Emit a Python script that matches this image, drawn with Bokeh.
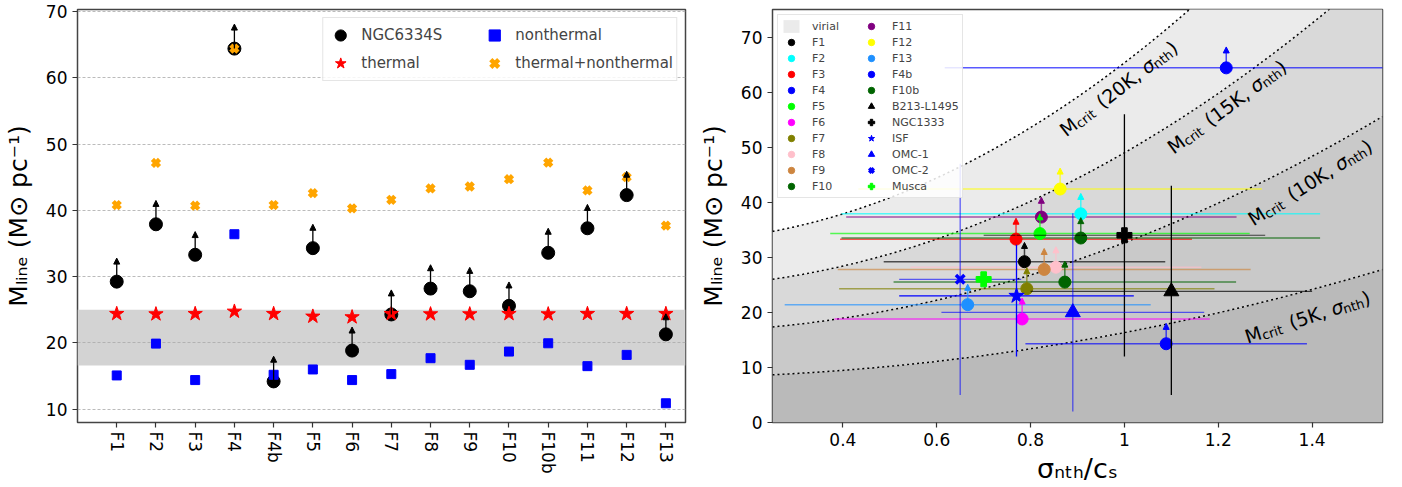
import numpy as np
from bokeh.plotting import figure
from bokeh.models import (Range1d, FixedTicker, BoxAnnotation, Arrow, NormalHead,
                          Legend, LegendItem, Label, ColumnDataSource)
from bokeh.layouts import row
from bokeh.embed import file_html
from bokeh.resources import INLINE

FONT = "DejaVu Sans"

# ---------------- left panel data ----------------
filaments = ["F1", "F2", "F3", "F4", "F4b", "F5", "F6", "F7", "F8", "F9",
             "F10", "F10b", "F11", "F12", "F13"]
ngc6334s = [29.25, 37.9, 33.3, 64.4, 14.2, 34.3, 18.85, 24.3, 28.2, 27.8,
            25.6, 33.6, 37.3, 42.3, 21.3]
ngc6334s_limit_tip = [32.8, 41.5, 36.8, 68.1, 18.0, 37.9, 22.4, 28.0, 31.8, 31.4,
                      29.2, 37.3, 40.9, 45.9, 24.4]
thermal = [24.4, 24.35, 24.4, 24.75, 24.4, 24.0, 23.9, 24.4, 24.35, 24.35,
           24.4, 24.35, 24.4, 24.4, 24.4]
nonthermal = [15.1, 19.9, 14.4, 36.4, 15.2, 16.0, 14.4, 15.3, 17.7, 16.7,
              18.7, 19.95, 16.5, 18.2, 10.9]
thermal_nonthermal = [40.8, 47.15, 40.7, 64.4, 40.8, 42.6, 40.3, 41.6, 43.3, 43.6,
                      44.7, 47.2, 43.0, 45.0, 37.7]
virial_band = [16.6, 25.0]

# ---------------- right panel data ----------------
f_names = ["F1", "F2", "F3", "F4", "F5", "F6", "F7", "F8", "F9", "F10",
           "F11", "F12", "F13", "F4b", "F10b"]
f_colors = ["black", "cyan", "red", "blue", "lime", "magenta", "olive", "pink",
            "peru", "darkgreen", "purple", "yellow", "dodgerblue", "blue", "darkgreen"]
f_sigma = [0.787, 0.907, 0.769, 1.217, 0.820, 0.782, 0.792, 0.854, 0.829, 0.873,
           0.823, 0.863, 0.666, 1.089, 0.907]
f_sigma_err = [0.30, 0.51, 0.375, 0.60, 0.447, 0.40, 0.40, 0.31, 0.44, 0.365,
               0.416, 0.43, 0.39, 0.30, 0.51]
f_mline = [29.2, 37.9, 33.3, 64.4, 34.3, 18.8, 24.3, 28.2, 27.8, 25.5,
           37.3, 42.4, 21.4, 14.3, 33.5]
f_mline_tip = [32.7, 41.6, 37.1, 68.2, 37.9, 22.6, 28.1, 31.9, 31.6, 29.3,
               40.9, 46.2, 25.1, 18.0, 37.2]

o_names = ["B213-L1495", "NGC1333", "ISF", "OMC-1", "OMC-2", "Musca"]
o_sigma = [1.10, 1.00, 0.77, 0.89, 0.65, 0.70]
o_sigma_err = [0.30, 0.30, 0.25, 0.28, 0.13, 0.0]
o_mline = [23.8, 34.0, 23.0, 20.0, 26.0, 26.0]
o_mline_err_lo = [18.8, 22.0, 11.0, 18.0, 21.0, 0.0]
o_mline_err_hi = [19.2, 22.0, 9.3, 18.0, 21.0, 0.0]
o_markers = ["triangle", "plus", "star", "triangle", "x", "plus"]
o_colors = ["black", "black", "blue", "blue", "blue", "lime"]

crit_temps = [5, 10, 15, 20]
mcrit_per_kelvin = 1.633   # M_sun/pc per K (thermal critical line mass)
band_colors = ["#bababa", "#c9c9c9", "#d9d9d9", "#ebebeb"]

YLABEL = "Mₗᵢₙₑ (M⊙ pc⁻¹)"


def style_axes(p, tick_fs="17px"):
    for ax in (p.xaxis, p.yaxis):
        ax.axis_line_color = None
        ax.major_tick_line_color = "#333333"
        ax.major_tick_line_width = 1.2
        ax.major_tick_out = 5
        ax.major_tick_in = 0
        ax.minor_tick_line_color = None
        ax.major_label_text_font = FONT
        ax.major_label_text_font_size = tick_fs
        ax.major_label_text_color = "black"
        ax.axis_label_text_font = FONT
        ax.axis_label_text_font_style = "normal"
        ax.axis_label_text_font_size = "25px"
        ax.axis_label_text_color = "black"
    p.outline_line_color = "#444444"
    p.outline_line_width = 1.5


H = 486

# ======================= LEFT PANEL =======================
idx = list(range(len(filaments)))
p1 = figure(width=695, height=H, x_range=Range1d(-1, 14.5), y_range=Range1d(8, 70.3),
            output_backend="svg", toolbar_location=None,
            min_border_left=73, min_border_right=10, min_border_top=9, min_border_bottom=62)
style_axes(p1)
p1.xaxis.ticker = FixedTicker(ticks=idx)
p1.xaxis.major_label_overrides = {i: n for i, n in enumerate(filaments)}
p1.xaxis.major_label_orientation = "vertical"
p1.xaxis.major_label_standoff = 4
p1.yaxis.ticker = FixedTicker(ticks=[10, 20, 30, 40, 50, 60, 70])
p1.yaxis.axis_label = YLABEL
p1.yaxis.axis_label_standoff = 10
p1.xgrid.visible = False
p1.ygrid.ticker = FixedTicker(ticks=[10, 20, 30, 40, 50, 60, 70])
p1.ygrid.grid_line_color = "#aaaaaa"
p1.ygrid.grid_line_dash = "3 2"
p1.ygrid.grid_line_width = 0.8

p1.add_layout(BoxAnnotation(bottom=virial_band[0], top=virial_band[1], fill_color="#d3d3d3",
                            fill_alpha=1.0, line_color=None, level="image"))

src_arrow = ColumnDataSource(dict(x=idx, y0=ngc6334s, y1=ngc6334s_limit_tip))
arr = Arrow(end=NormalHead(size=6, fill_color="black", line_color="black", line_width=1),
            x_start="x", y_start="y0", x_end="x", y_end="y1", source=src_arrow,
            line_color="black", line_width=1.3, level="glyph")
p1.add_layout(arr)
r_ngc = p1.scatter(idx, ngc6334s, marker="circle", size=13, color="black")
r_th = p1.scatter(idx, thermal, marker="star", size=15, color="red")
r_nth = p1.scatter(idx, nonthermal, marker="square", size=9, color="blue")
r_tnt = p1.scatter(idx, thermal_nonthermal, marker="x", size=10, line_width=4.5,
                   color="orange")

leg1 = Legend(items=[LegendItem(label="NGC6334S", renderers=[r_ngc]),
                     LegendItem(label="thermal", renderers=[r_th]),
                     LegendItem(label="nonthermal", renderers=[r_nth]),
                     LegendItem(label="thermal+nonthermal", renderers=[r_tnt])],
              location="top_right", ncols=2,
              label_text_font=FONT, label_text_font_size="15px",
              glyph_width=28, glyph_height=28, label_height=28, label_width=119,
              label_standoff=7, padding=3, spacing=0, margin=8,
              border_line_color="#cccccc", border_line_width=1,
              background_fill_color="white", background_fill_alpha=0.85)
p1.add_layout(leg1)

# ======================= RIGHT PANEL =======================
p2 = figure(width=695, height=H, x_range=Range1d(0.25, 1.55), y_range=Range1d(0, 75),
            output_backend="svg", toolbar_location=None,
            min_border_left=76, min_border_right=8, min_border_top=9, min_border_bottom=62)
style_axes(p2)
p2.xgrid.visible = False
p2.ygrid.visible = False
p2.xaxis.ticker = FixedTicker(ticks=[0.4, 0.6, 0.8, 1.0, 1.2, 1.4])
p2.yaxis.ticker = FixedTicker(ticks=[0, 10, 20, 30, 40, 50, 60, 70])
p2.yaxis.axis_label = YLABEL
p2.yaxis.axis_label_standoff = 10
p2.xaxis.axis_label = "σₙₜₕ/cₛ"
p2.xaxis.axis_label_standoff = 4
p2.xaxis.axis_label_text_font_size = "27px"

xs = np.linspace(0.25, 1.55, 300)
curves = [mcrit_per_kelvin * T * (1.0 + xs ** 2) for T in crit_temps]
lower = np.zeros_like(xs)
band_renderers = []
for c, col in zip(curves, band_colors):
    band_renderers.append(p2.varea(x=xs, y1=lower, y2=c, fill_color=col))
    lower = c
for c in curves:
    p2.line(xs, c, line_color="black", line_dash="2 3", line_width=1.5)

f_renderers = []
for i, name in enumerate(f_names):
    col = f_colors[i]
    p2.segment(x0=[f_sigma[i] - f_sigma_err[i]], y0=[f_mline[i]],
               x1=[f_sigma[i] + f_sigma_err[i]], y1=[f_mline[i]],
               line_color=col, line_alpha=0.65, line_width=1.5)
    p2.add_layout(Arrow(end=NormalHead(size=6, fill_color=col, line_color=col, line_width=1),
                        x_start=f_sigma[i], y_start=f_mline[i],
                        x_end=f_sigma[i], y_end=f_mline_tip[i],
                        line_color=col, line_alpha=0.7, line_width=1.5, level="glyph"))

for i, name in enumerate(f_names):
    f_renderers.append(p2.scatter([f_sigma[i]], [f_mline[i]], marker="circle", size=12,
                                  color=f_colors[i]))

o_renderers = []
for i, name in enumerate(o_names):
    col = o_colors[i]
    alpha = 0.6 if name in ("OMC-1", "OMC-2") else 1.0
    if o_sigma_err[i] > 0:
        p2.segment(x0=[o_sigma[i] - o_sigma_err[i]], y0=[o_mline[i]],
                   x1=[o_sigma[i] + o_sigma_err[i]], y1=[o_mline[i]],
                   line_color=col, line_alpha=alpha if col != "black" else 0.7,
                   line_width=1.2)
    if o_mline_err_lo[i] > 0:
        p2.segment(x0=[o_sigma[i]], y0=[o_mline[i] - o_mline_err_lo[i]],
                   x1=[o_sigma[i]], y1=[o_mline[i] + o_mline_err_hi[i]],
                   line_color=col, line_alpha=alpha, line_width=1.3)
for i, name in enumerate(o_names):
    m = o_markers[i]
    if m == "x":
        r = p2.scatter([o_sigma[i]], [o_mline[i]], marker="x", size=12, line_width=3.5,
                       color=o_colors[i])
    else:
        r = p2.scatter([o_sigma[i]], [o_mline[i]], marker=m,
                       size=15 if m != "star" else 16, color=o_colors[i])
    o_renderers.append(r)

# ---- rotated curve labels: M_crit (T K, sigma_nth) ----
CW = {"M": .863, "c": .550, "r": .411, "i": .278, "t": .392, " ": .318, "(": .390,
      ")": .390, "K": .656, ",": .318, "σ": .60, "n": .634, "h": .634}
for d in "0123456789":
    CW[d] = .636


def tw(s, fs):
    return sum(CW.get(ch, .6) for ch in s) * fs


def crit_label(p, xc, yc, ang_deg, T, fs=19, fsub=13):
    th = np.deg2rad(ang_deg)
    parts = [("M", fs, 0, "normal"), ("crit", fsub, 4, "normal"), (None, fs * .45, 0, ""),
             (f"({T}K,", fs, 0, "normal"), (None, fs * .32, 0, ""),
             ("σ", fs, 0, "italic"), ("nth", fsub, 4, "normal"), (")", fs, 0, "normal")]
    total = sum((tw(s, f) if s else f) for s, f, _, _ in parts)
    d = -total / 2
    base = 6.5
    for s, f, sh, style in parts:
        if s is None:
            d += f
            continue
        down = base + sh
        dx = d * np.cos(th) + down * np.sin(th)
        dy = d * np.sin(th) - down * np.cos(th)
        p.add_layout(Label(x=xc, y=yc, x_offset=dx, y_offset=dy, text=s, angle=th,
                           text_font=FONT, text_font_size=f"{f}px", text_font_style=style,
                           text_align="left", text_baseline="alphabetic",
                           text_color="black"))
        d += tw(s, f)


label_spots = {20: (0.979, 61.6, 37.6), 15: (1.210, 58.3, 36.6),
               10: (1.388, 44.6, 32.4), 5: (1.386, 20.3, 18.0)}
for T in crit_temps:
    xc, yc, a = label_spots[T]
    crit_label(p2, xc, yc, a, T)

items2 = [LegendItem(label="virial", renderers=[band_renderers[3]])]
items2 += [LegendItem(label=n, renderers=[r]) for n, r in zip(f_names, f_renderers)]
items2 += [LegendItem(label=n, renderers=[r]) for n, r in zip(o_names, o_renderers)]
leg2 = Legend(items=items2, location="top_left", ncols=2,
              label_text_font=FONT, label_text_font_size="11px",
              glyph_width=20, glyph_height=16, label_height=16, label_width=49,
              label_standoff=11, padding=3, spacing=0, margin=5,
              border_line_color="#cccccc", border_line_width=1,
              background_fill_color="white", background_fill_alpha=0.85)
p2.add_layout(leg2)

layout = row(p1, p2)
open("out.html", "w").write(file_html(layout, INLINE))
